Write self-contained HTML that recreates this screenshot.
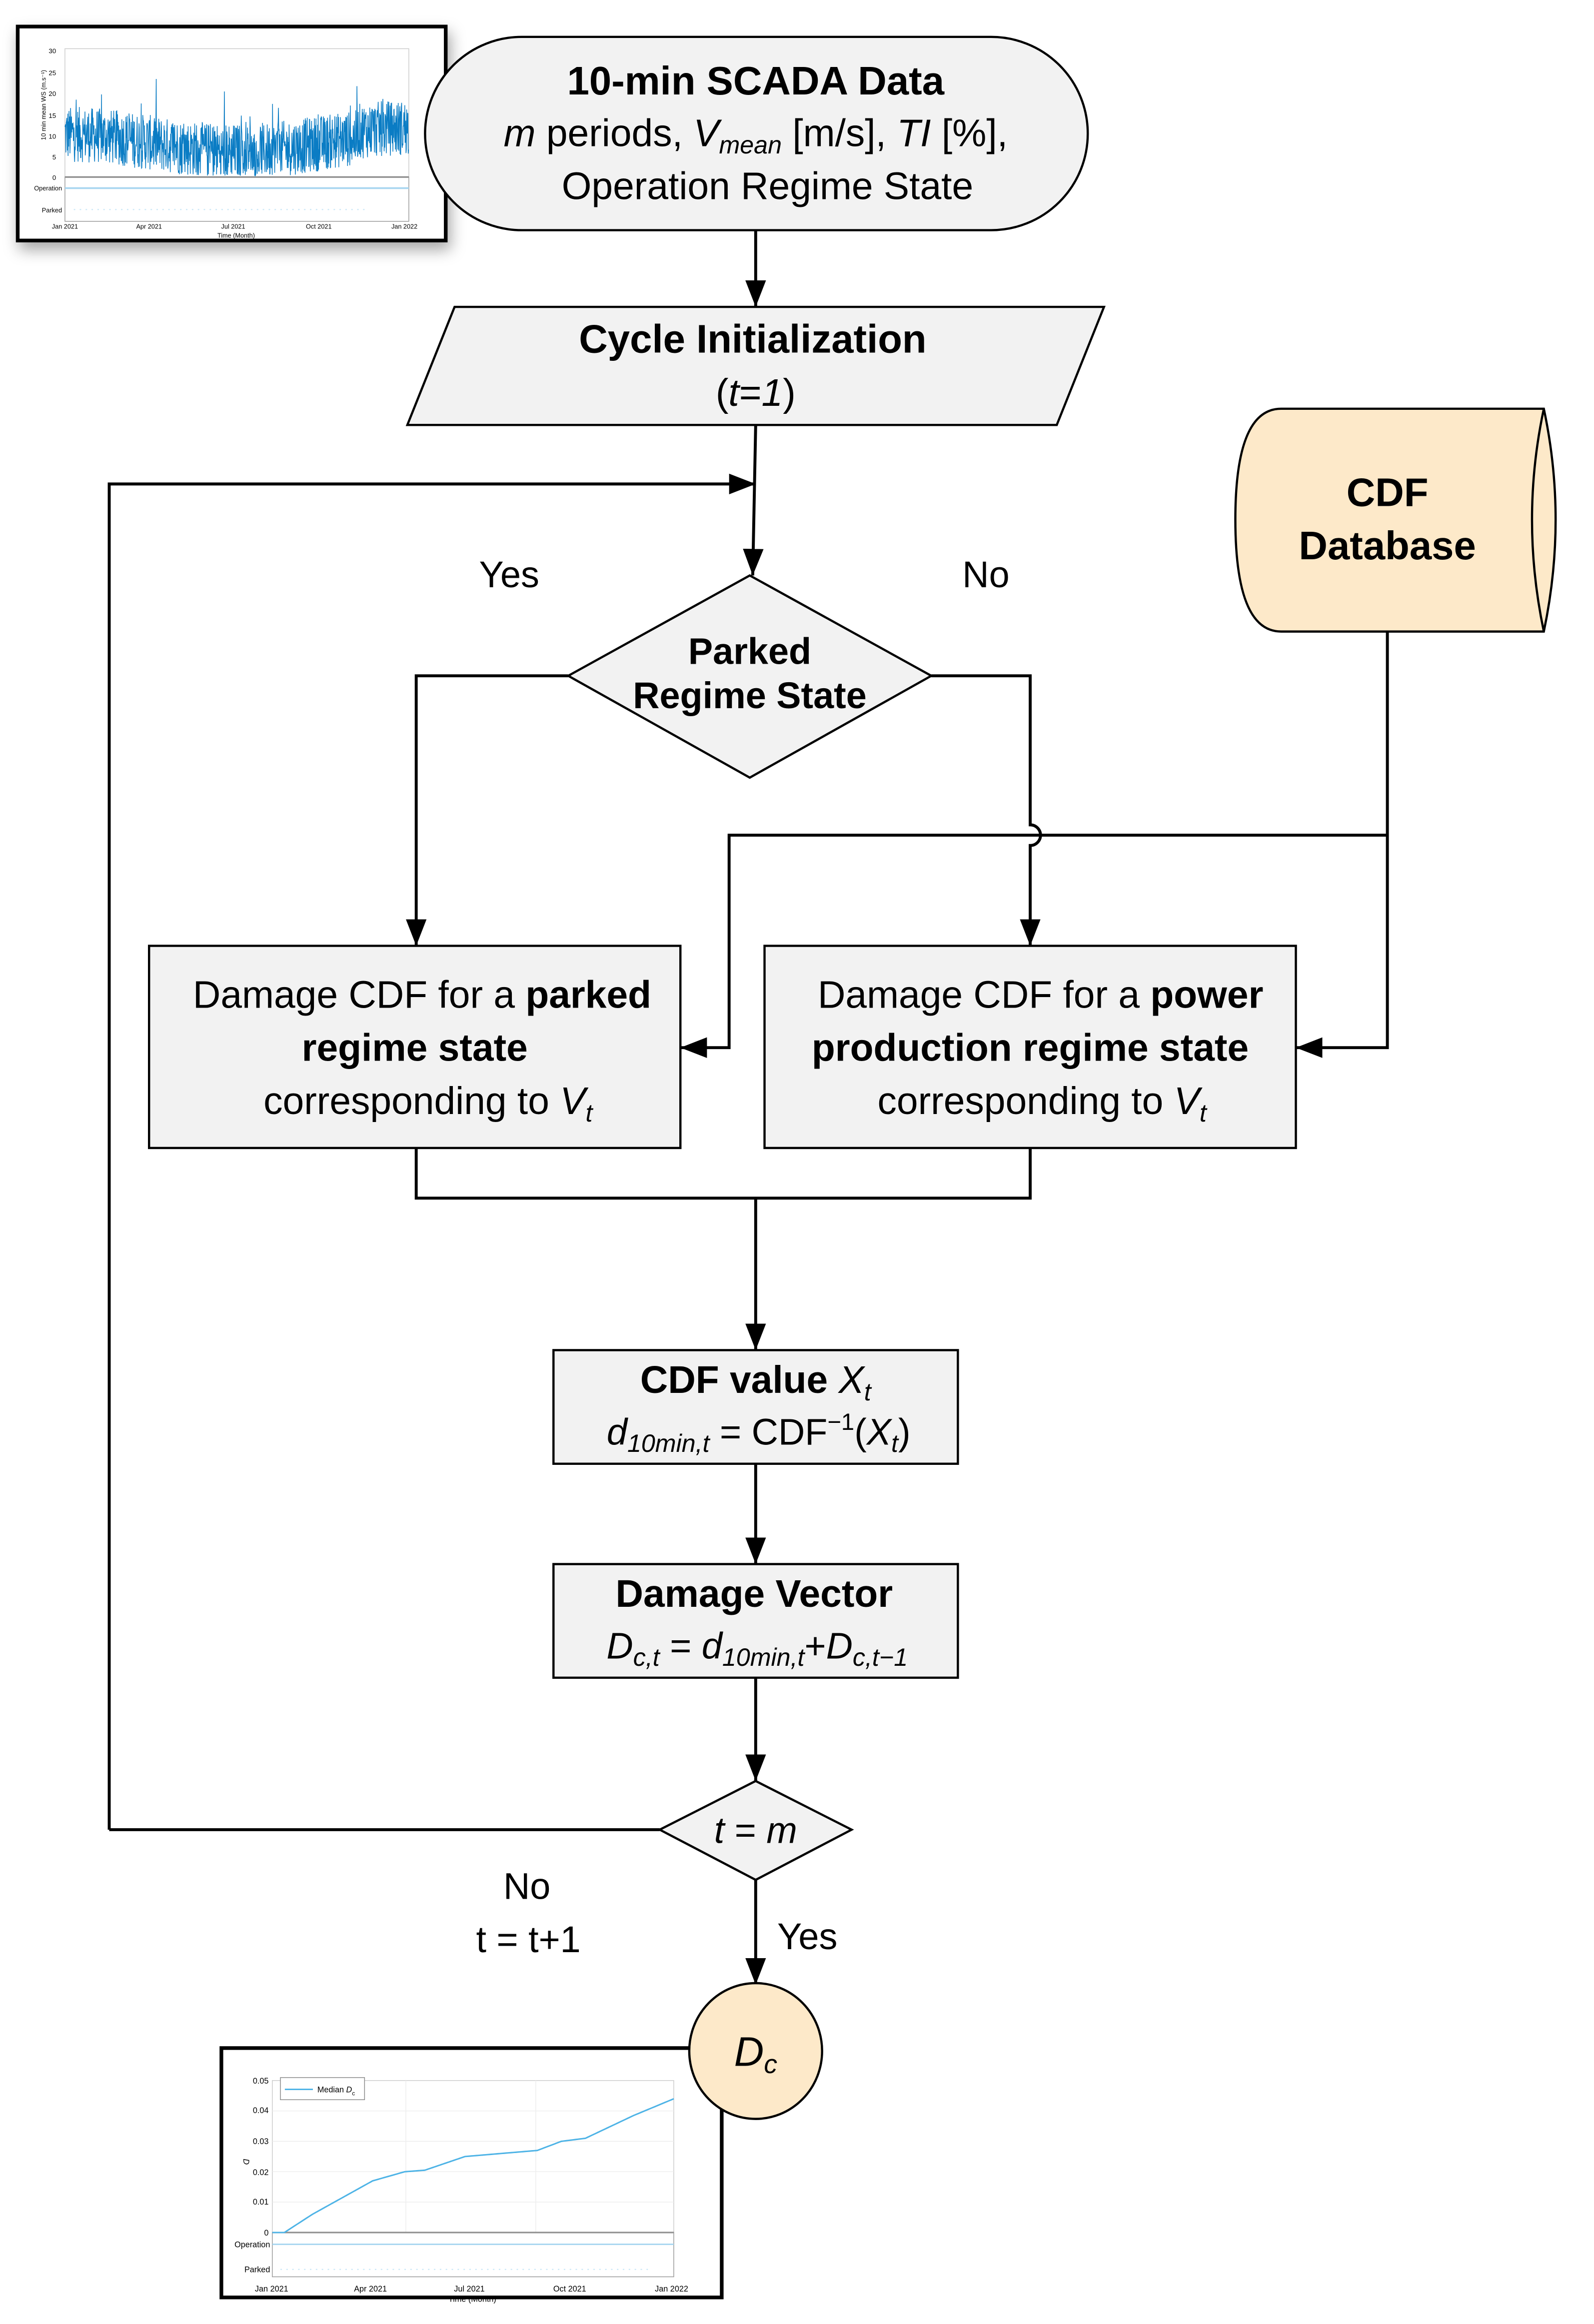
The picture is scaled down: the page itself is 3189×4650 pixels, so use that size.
<!DOCTYPE html>
<html><head><meta charset="utf-8"><style>
html,body{margin:0;padding:0;background:#fff;}
svg{display:block;}
text{font-family:"Liberation Sans",sans-serif;fill:#000;}
</style></head><body>
<svg id="s" width="3189" height="4650" viewBox="0 0 1080 1575" preserveAspectRatio="none" xmlns="http://www.w3.org/2000/svg">
<defs>
<marker id="ah" viewBox="0 0 10 10" refX="10" refY="5" markerWidth="18" markerHeight="14" orient="auto" markerUnits="userSpaceOnUse" preserveAspectRatio="none">
<path d="M0,0 L10,5 L0,10 z" fill="#000"/></marker>
<filter id="sh" x="-10%" y="-10%" width="130%" height="140%"><feDropShadow dx="2" dy="5" stdDeviation="5" flood-color="#000" flood-opacity="0.35"/></filter>
</defs>
<rect width="1080" height="1575" fill="#fff"/>

<!-- Chart 1 -->
<rect x="12" y="18" width="290" height="145" fill="#fff" stroke="#000" stroke-width="2.5" filter="url(#sh)"/>
<g id="c1">
<rect x="44" y="33" width="233" height="87" fill="#fff" stroke="#ccc" stroke-width="0.5"/>
<line x1="44" y1="120" x2="277" y2="120" stroke="#777" stroke-width="1"/>
<rect x="44" y="120" width="233" height="30" fill="none" stroke="#999" stroke-width="0.5"/>
<line x1="44" y1="127.5" x2="277" y2="127.5" stroke="#a9d6f0" stroke-width="1.2"/>
<line x1="50" y1="142" x2="250" y2="142" stroke="#cde8f7" stroke-width="0.8" stroke-dasharray="1 3"/>
<text x="38" y="36" font-size="4.5" text-anchor="end" fill="#555">30</text>
<text x="38" y="51" font-size="4.5" text-anchor="end" fill="#555">25</text>
<text x="38" y="65" font-size="4.5" text-anchor="end" fill="#555">20</text>
<text x="38" y="80" font-size="4.5" text-anchor="end" fill="#555">15</text>
<text x="38" y="94" font-size="4.5" text-anchor="end" fill="#555">10</text>
<text x="38" y="108" font-size="4.5" text-anchor="end" fill="#555">5</text>
<text x="38" y="122" font-size="4.5" text-anchor="end" fill="#555">0</text>
<text x="42" y="129" font-size="4.3" text-anchor="end" fill="#555">Operation</text>
<text x="42" y="144" font-size="4.3" text-anchor="end" fill="#555">Parked</text>
<text x="44" y="155" font-size="4.3" text-anchor="middle" fill="#555">Jan 2021</text>
<text x="101" y="155" font-size="4.3" text-anchor="middle" fill="#555">Apr 2021</text>
<text x="158" y="155" font-size="4.3" text-anchor="middle" fill="#555">Jul 2021</text>
<text x="216" y="155" font-size="4.3" text-anchor="middle" fill="#555">Oct 2021</text>
<text x="274" y="155" font-size="4.3" text-anchor="middle" fill="#555">Jan 2022</text>
<text x="160" y="161" font-size="4.3" text-anchor="middle" fill="#555">Time (Month)</text>
<text x="0" y="0" font-size="4.3" fill="#555" transform="translate(31,95) rotate(-90)">10 min mean WS (m.s⁻¹)</text>
<polyline id="ws" fill="none" stroke="#0a7cc4" stroke-width="0.5" points=""/>
</g>

<!-- Terminal -->
<rect x="288" y="25" width="449" height="131" rx="65.5" ry="65.5" fill="#f2f2f2" stroke="#000" stroke-width="1.5"/>
<text x="512" y="64" font-size="27" font-weight="bold" text-anchor="middle">10-min SCADA Data</text>
<text x="512" y="99" font-size="26" text-anchor="middle"><tspan font-style="italic">m</tspan> periods, <tspan font-style="italic">V</tspan><tspan font-style="italic" font-size="17" dy="5">mean</tspan><tspan dy="-5"> [m/s], </tspan><tspan font-style="italic">TI</tspan> [%],</text>
<text x="520" y="135" font-size="26" text-anchor="middle">Operation Regime State</text>
<line x1="512" y1="156" x2="512" y2="208" stroke="#000" stroke-width="2" marker-end="url(#ah)"/>

<!-- Parallelogram -->
<polygon points="308,208 748,208 716,288 276,288" fill="#f2f2f2" stroke="#000" stroke-width="1.5"/>
<text x="510" y="239" font-size="27" font-weight="bold" text-anchor="middle">Cycle Initialization</text>
<text x="512" y="275" font-size="26" text-anchor="middle">(<tspan font-style="italic">t</tspan>=<tspan font-style="italic">1</tspan>)</text>

<line x1="512" y1="288" x2="510" y2="390" stroke="#000" stroke-width="2" marker-end="url(#ah)"/>
<polyline points="74,1240 74,328 512,328" fill="none" stroke="#000" stroke-width="2" marker-end="url(#ah)"/>

<text x="345" y="398" font-size="25" text-anchor="middle">Yes</text>
<text x="668" y="398" font-size="25" text-anchor="middle">No</text>

<!-- Diamond -->
<polygon points="508,390 631,458 508,527 385,458" fill="#f2f2f2" stroke="#000" stroke-width="1.5"/>
<text x="508" y="450" font-size="25" font-weight="bold" text-anchor="middle">Parked</text>
<text x="508" y="480" font-size="25" font-weight="bold" text-anchor="middle">Regime State</text>

<polyline points="385,458 282,458 282,641" fill="none" stroke="#000" stroke-width="2" marker-end="url(#ah)"/>
<path d="M631,458 L698,458 L698,559 A7,7 0 0 1 698,573 L698,641" fill="none" stroke="#000" stroke-width="2" marker-end="url(#ah)"/>

<!-- CDF Database cylinder -->
<path d="M868,277 L1046,277 Q1062,352 1046,428 L868,428 Q837,428 837,352 Q837,277 868,277 Z" fill="#fde9c9" stroke="#000" stroke-width="1.5"/>
<path d="M1046,277 Q1030,352 1046,428" fill="none" stroke="#000" stroke-width="1.5"/>
<text x="940" y="343" font-size="27" font-weight="bold" text-anchor="middle">CDF</text>
<text x="940" y="379" font-size="27" font-weight="bold" text-anchor="middle">Database</text>

<polyline points="940,428 940,710 878,710" fill="none" stroke="#000" stroke-width="2" marker-end="url(#ah)"/>
<polyline points="940,566 494,566 494,710 461,710" fill="none" stroke="#000" stroke-width="2" marker-end="url(#ah)"/>

<!-- Boxes -->
<rect x="101" y="641" width="360" height="137" fill="#f2f2f2" stroke="#000" stroke-width="1.5"/>
<text x="286" y="683" font-size="26" text-anchor="middle">Damage CDF for a <tspan font-weight="bold">parked</tspan></text>
<text x="281" y="719" font-size="26" font-weight="bold" text-anchor="middle">regime state</text>
<text x="290" y="755" font-size="26" text-anchor="middle">corresponding to <tspan font-style="italic">V</tspan><tspan font-style="italic" font-size="17" dy="5">t</tspan></text>

<rect x="518" y="641" width="360" height="137" fill="#f2f2f2" stroke="#000" stroke-width="1.5"/>
<text x="705" y="683" font-size="26" text-anchor="middle">Damage CDF for a <tspan font-weight="bold">power</tspan></text>
<text x="698" y="719" font-size="26" font-weight="bold" text-anchor="middle">production regime state</text>
<text x="706" y="755" font-size="26" text-anchor="middle">corresponding to <tspan font-style="italic">V</tspan><tspan font-style="italic" font-size="17" dy="5">t</tspan></text>

<polyline points="282,778 282,812 698,812 698,778" fill="none" stroke="#000" stroke-width="2"/>
<line x1="512" y1="812" x2="512" y2="915" stroke="#000" stroke-width="2" marker-end="url(#ah)"/>

<rect x="375" y="915" width="274" height="77" fill="#f2f2f2" stroke="#000" stroke-width="1.5"/>
<text x="512" y="944" font-size="26" text-anchor="middle"><tspan font-weight="bold">CDF value </tspan><tspan font-style="italic">X</tspan><tspan font-style="italic" font-size="17" dy="5">t</tspan></text>
<text x="514" y="979" font-size="25" text-anchor="middle"><tspan font-style="italic">d</tspan><tspan font-style="italic" font-size="17" dy="5">10min,t</tspan><tspan dy="-5"> = CDF</tspan><tspan font-size="16" dy="-10">−1</tspan><tspan dy="10">(</tspan><tspan font-style="italic">X</tspan><tspan font-style="italic" font-size="17" dy="5">t</tspan><tspan dy="-5">)</tspan></text>
<line x1="512" y1="992" x2="512" y2="1060" stroke="#000" stroke-width="2" marker-end="url(#ah)"/>

<rect x="375" y="1060" width="274" height="77" fill="#f2f2f2" stroke="#000" stroke-width="1.5"/>
<text x="511" y="1089" font-size="26" font-weight="bold" text-anchor="middle">Damage Vector</text>
<text x="513" y="1124" font-size="25" text-anchor="middle"><tspan font-style="italic">D</tspan><tspan font-style="italic" font-size="17" dy="5">c,t</tspan><tspan dy="-5"> = </tspan><tspan font-style="italic">d</tspan><tspan font-style="italic" font-size="17" dy="5">10min,t</tspan><tspan dy="-5">+</tspan><tspan font-style="italic">D</tspan><tspan font-style="italic" font-size="17" dy="5">c,t−1</tspan></text>
<line x1="512" y1="1137" x2="512" y2="1207" stroke="#000" stroke-width="2" marker-end="url(#ah)"/>

<polygon points="512,1207 577,1240 512,1274 447,1240" fill="#f2f2f2" stroke="#000" stroke-width="1.5"/>
<text x="512" y="1249" font-size="25" text-anchor="middle"><tspan font-style="italic">t</tspan> = <tspan font-style="italic">m</tspan></text>
<line x1="447" y1="1240" x2="74" y2="1240" stroke="#000" stroke-width="2"/>

<text x="357" y="1287" font-size="25" text-anchor="middle">No</text>
<text x="358" y="1323" font-size="25" text-anchor="middle">t = t+1</text>
<text x="547" y="1321" font-size="25" text-anchor="middle">Yes</text>
<line x1="512" y1="1274" x2="512" y2="1345" stroke="#000" stroke-width="2" marker-end="url(#ah)"/>

<!-- Chart 2 -->
<rect x="150" y="1388" width="339" height="169" fill="#fff" stroke="#000" stroke-width="2.5"/>
<rect x="184.5" y="1410" width="272" height="103" fill="#fff" stroke="#ccc" stroke-width="0.5"/>
<g stroke="#eee" stroke-width="0.5">
<line x1="184.5" y1="1430.6" x2="456.5" y2="1430.6"/><line x1="184.5" y1="1451.2" x2="456.5" y2="1451.2"/>
<line x1="184.5" y1="1471.8" x2="456.5" y2="1471.8"/><line x1="184.5" y1="1492.4" x2="456.5" y2="1492.4"/>
<line x1="275" y1="1410" x2="275" y2="1513"/><line x1="363" y1="1410" x2="363" y2="1513"/>
</g>
<line x1="184.5" y1="1513" x2="456.5" y2="1513" stroke="#777" stroke-width="1"/>
<rect x="184.5" y="1513" width="272" height="30" fill="none" stroke="#999" stroke-width="0.5"/>
<line x1="184.5" y1="1521" x2="456.5" y2="1521" stroke="#a9d6f0" stroke-width="1"/>
<line x1="190" y1="1538" x2="440" y2="1538" stroke="#cde8f7" stroke-width="0.8" stroke-dasharray="1 3"/>
<polyline id="dc" fill="none" stroke="#4db3e6" stroke-width="1" points=""/>
<rect x="190" y="1408" width="57" height="15" fill="#fff" stroke="#888" stroke-width="0.5"/>
<line x1="193" y1="1416" x2="212" y2="1416" stroke="#4db3e6" stroke-width="1"/>
<text x="215" y="1418" font-size="5.5" fill="#444">Median <tspan font-style="italic">D</tspan><tspan font-size="4" dy="2">c</tspan></text>
<g font-size="5.5" fill="#555" text-anchor="end">
<text x="182" y="1412">0.05</text><text x="182" y="1432">0.04</text><text x="182" y="1453">0.03</text>
<text x="182" y="1474">0.02</text><text x="182" y="1494">0.01</text><text x="182" y="1515">0</text>
<text x="183" y="1523">Operation</text><text x="183" y="1540">Parked</text>
</g>
<g font-size="5.5" fill="#555" text-anchor="middle">
<text x="184" y="1553">Jan 2021</text><text x="251" y="1553">Apr 2021</text><text x="318" y="1553">Jul 2021</text>
<text x="386" y="1553">Oct 2021</text><text x="455" y="1553">Jan 2022</text><text x="320" y="1560">Time (Month)</text>
</g>
<text x="0" y="0" font-size="5.5" fill="#555" font-style="italic" transform="translate(165,1463) rotate(90)">D</text>

<ellipse cx="512" cy="1390" rx="45" ry="46" fill="#fde9c9" stroke="#000" stroke-width="1.5"/>
<text x="512" y="1400" font-size="28" font-style="italic" text-anchor="middle">D<tspan font-size="18" dy="5">c</tspan></text>
</svg>
<script>
(function(){
var s=12345;function r(){s=(s*1103515245+12345)%2147483648;return s/2147483648;}
var p=[];var n=1100;
for(var i=0;i<n;i++){var f=i/n;var x=44+233*f;
var base=8+2*Math.cos(f*2*Math.PI)+(f>0.85?1.5:0);
var v=base+(r()-0.5)*13+(r()<0.04?r()*10:0);
if(v<0.3)v=0.3+r();if(v>26)v=26;var y=120-v*87/30;p.push(x.toFixed(2)+","+y.toFixed(2));}
document.getElementById("ws").setAttribute("points",p.join(" "));
var k=[[0,0],[0.03,0],[0.1,0.006],[0.25,0.017],[0.33,0.02],[0.38,0.0205],[0.48,0.025],[0.66,0.027],[0.72,0.030],[0.78,0.031],[0.86,0.036],[0.9,0.0385],[1,0.044]];
var q=[];for(var j=0;j<=300;j++){var f=j/300;var a=0;while(a<k.length-2&&k[a+1][0]<f)a++;
var t=(f-k[a][0])/(k[a+1][0]-k[a][0]);var v=k[a][1]+t*(k[a+1][1]-k[a][1]);
q.push((184.5+272*f).toFixed(2)+","+(1513-v*103/0.05).toFixed(2));}
document.getElementById("dc").setAttribute("points",q.join(" "));
})();
</script>
</body></html>
